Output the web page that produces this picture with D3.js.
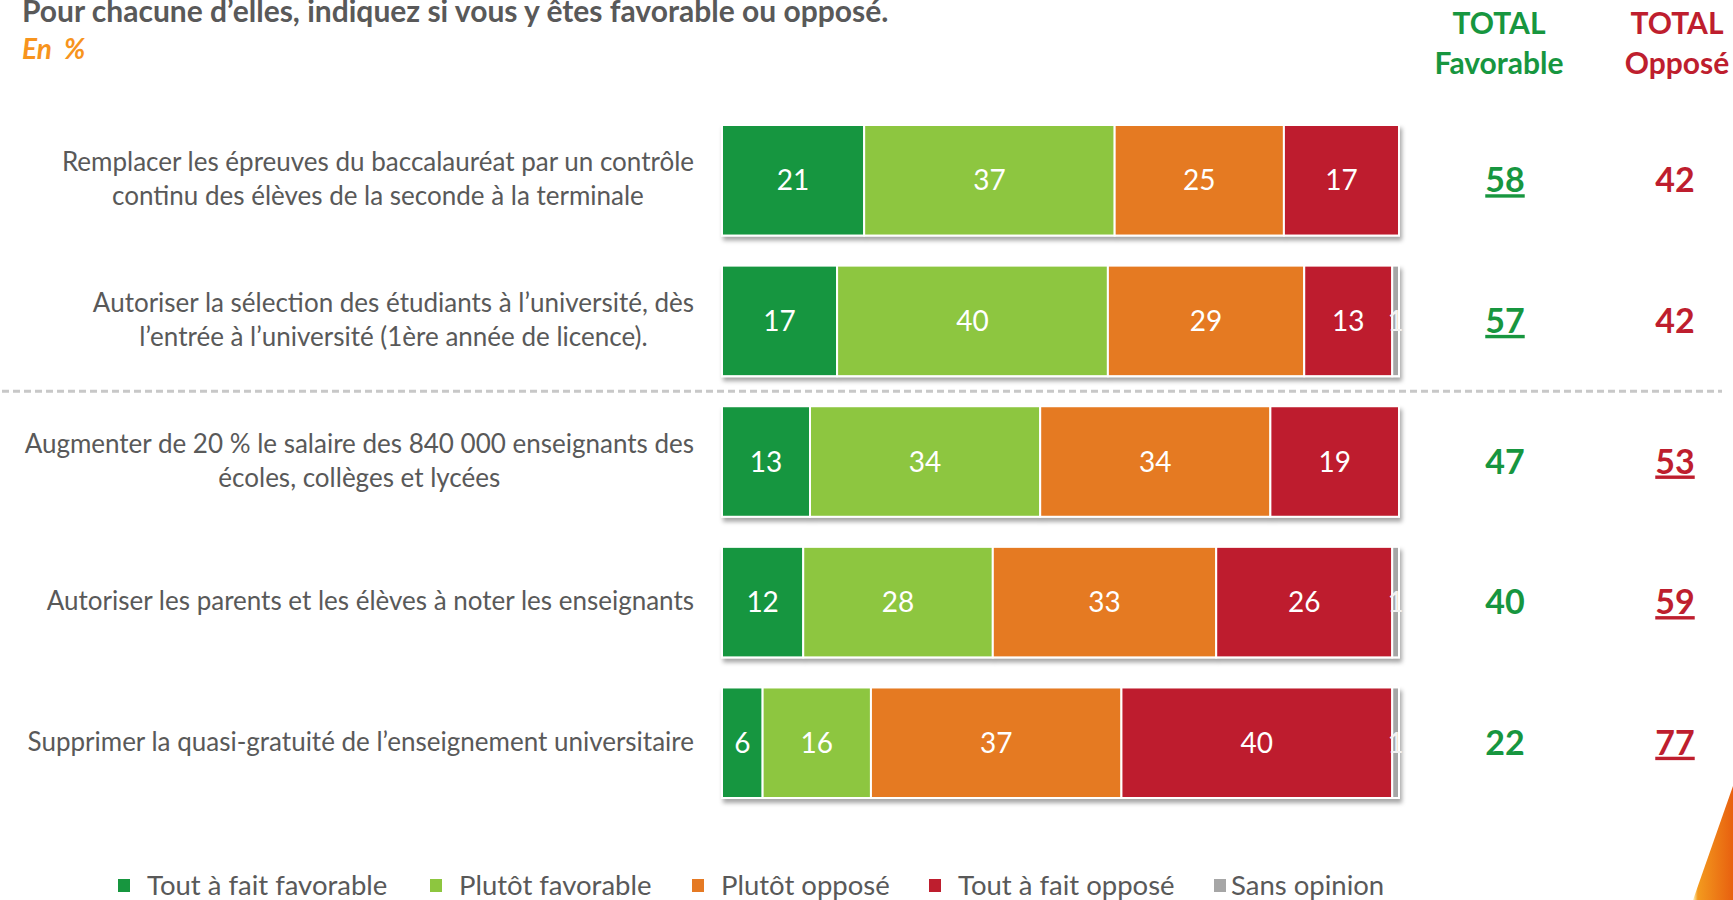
<!DOCTYPE html>
<html>
<head>
<meta charset="utf-8">
<script src="https://cdn.jsdelivr.net/npm/d3@7"></script>
<style>
body { margin: 0; background: #fff; }
text { font-family: Lato, "Open Sans", sans-serif; }
</style>
</head>
<body>
<svg id="chart" width="1733" height="900"></svg>
<script>
// questions, one per bar (lines split as in the slide)
var categories = [
  ["Remplacer les épreuves du baccalauréat par un contrôle", "continu des élèves de la seconde à la terminale"],
  ["Autoriser la sélection des étudiants à l’université, dès", "l’entrée à l’université (1ère année de licence)."],
  ["Augmenter de 20 % le salaire des 840 000 enseignants des", "écoles, collèges et lycées"],
  ["Autoriser les parents et les élèves à noter les enseignants"],
  ["Supprimer la quasi-gratuité de l’enseignement universitaire"]
];

var seriesNames = ["Tout à fait favorable", "Plutôt favorable", "Plutôt opposé", "Tout à fait opposé", "Sans opinion"];
var toutFavorable = [21, 17, 13, 12, 6];
var plutotFavorable = [37, 40, 34, 28, 16];
var plutotOppose = [25, 29, 34, 33, 37];
var toutOppose = [17, 13, 19, 26, 40];
var sansOpinion = [0, 1, 0, 1, 1];

var totalFavorable = [58, 57, 47, 40, 22];
var totalOppose = [42, 42, 53, 59, 77];
// which total is underlined (the majority)
var majority = ["fav", "fav", "opp", "opp", "opp"];

var colors = ["#17963f", "#8dc63f", "#e57a24", "#be1e2e", "#a6a6a6"];
var grey = "#595959";

var svg = d3.select("#chart");

var defs = svg.append("defs");
var f = defs.append("filter").attr("id", "shadow")
  .attr("x", "-5%").attr("y", "-10%").attr("width", "110%").attr("height", "130%");
f.append("feDropShadow").attr("dx", 2).attr("dy", 4).attr("stdDeviation", 2)
  .attr("flood-color", "#000").attr("flood-opacity", 0.35);

var g1 = defs.append("linearGradient").attr("id", "corner")
  .attr("x1", "0").attr("y1", "0").attr("x2", "1").attr("y2", "0");
g1.append("stop").attr("offset", "0").attr("stop-color", "#fff7c0");
g1.append("stop").attr("offset", "0.12").attr("stop-color", "#f39a1e");
g1.append("stop").attr("offset", "1").attr("stop-color", "#e8600f");

// title (top is cropped in the slide too)
svg.append("text").attr("x", 22).attr("y", 22)
  .attr("font-size", 30).attr("font-weight", "bold").attr("fill", grey)
  .text("Pour chacune d’elles, indiquez si vous y êtes favorable ou opposé.");
svg.append("text").attr("x", 22).attr("y", 59)
  .attr("font-size", 28).attr("font-weight", "bold").attr("font-style", "italic")
  .attr("fill", "#f7941d").attr("xml:space", "preserve").text("En  %");

// headers
[["TOTAL", "Favorable", 1499, "#17963f"], ["TOTAL", "Opposé", 1677, "#be1e2e"]].forEach(function(h) {
  svg.append("text").attr("x", h[2]).attr("y", 34).attr("text-anchor", "middle")
    .attr("font-size", 30).attr("font-weight", "bold").attr("fill", h[3]).text(h[0]);
  svg.append("text").attr("x", h[2]).attr("y", 74).attr("text-anchor", "middle")
    .attr("font-size", 30).attr("font-weight", "bold").attr("fill", h[3]).text(h[1]);
});

var x = d3.scaleLinear().domain([0, 100]).range([722, 1399]);
var y = d3.scaleBand().domain(d3.range(categories.length))
  .range([125, 798]).paddingInner(0.214).paddingOuter(0);

var rows = categories.map(function(c, i) {
  return [toutFavorable[i], plutotFavorable[i], plutotOppose[i], toutOppose[i], sansOpinion[i]];
});

// dashed separator between second and third question
var sepY = (y(1) + y.bandwidth() + y(2)) / 2;
svg.append("line").attr("x1", 2).attr("x2", 1722).attr("y1", sepY).attr("y2", sepY)
  .attr("stroke", "#c8c8c8").attr("stroke-width", 3).attr("stroke-dasharray", "7,4");

rows.forEach(function(vals, i) {
  var g = svg.append("g");
  var cum = 0;
  var segs = vals.map(function(v, k) {
    var s = { k: k, v: v, x0: cum, x1: cum + v };
    cum += v;
    return s;
  }).filter(function(s) { return s.v > 0; });

  var bars = g.append("g").attr("filter", "url(#shadow)");
  bars.selectAll("rect").data(segs).enter().append("rect")
    .attr("x", function(d) { return x(d.x0); })
    .attr("y", y(i))
    .attr("width", function(d) { return x(d.x1) - x(d.x0); })
    .attr("height", y.bandwidth())
    .attr("fill", function(d) { return colors[d.k]; })
    .attr("stroke", "#fff").attr("stroke-width", 2);

  g.selectAll("text.v").data(segs).enter().append("text")
    .attr("class", "v")
    .attr("x", function(d) { return (x(d.x0) + x(d.x1)) / 2; })
    .attr("y", y(i) + y.bandwidth() / 2 + 10)
    .attr("text-anchor", "middle")
    .attr("font-size", 28)
    .attr("fill", function(d) { return d.k == 4 ? "#f2f2f2" : "#fff"; })
    .text(function(d) { return d.v; });

  // question label, centred on its widest line, right edge at 694
  var lines = categories[i];
  var cy = y(i) + y.bandwidth() / 2;
  var lbl = g.append("text").attr("font-size", 26).attr("fill", grey).attr("text-anchor", "middle");
  lines.forEach(function(t, j) {
    lbl.append("tspan").attr("y", cy + 8 + (j - (lines.length - 1) / 2) * 34).text(t);
  });
  var w = d3.max(lbl.selectAll("tspan").nodes(), function(n) { return n.getComputedTextLength(); });
  lbl.selectAll("tspan").attr("x", 694 - w / 2);

  // totals
  [[totalFavorable[i], 1505, "#17963f", "fav"], [totalOppose[i], 1675, "#be1e2e", "opp"]].forEach(function(t) {
    g.append("text").attr("x", t[1]).attr("y", cy + 12).attr("text-anchor", "middle")
      .attr("font-size", 34).attr("font-weight", "bold").attr("fill", t[2])
      .attr("text-decoration", majority[i] == t[3] ? "underline" : null)
      .text(t[0]);
  });
});

// legend
var legX = [118, 430, 692, 929, 1214];
var leg = svg.append("g");
seriesNames.forEach(function(n, k) {
  leg.append("rect").attr("x", legX[k]).attr("y", 879).attr("width", 12).attr("height", 13)
    .attr("fill", colors[k]);
  leg.append("text").attr("x", legX[k] + (k == 4 ? 17 : 29)).attr("y", 895)
    .attr("font-size", 27.5).attr("fill", grey).text(n);
});

// orange corner decoration
svg.append("polygon").attr("points", "1693,900 1733,786 1733,900").attr("fill", "url(#corner)");
</script>
</body>
</html>
